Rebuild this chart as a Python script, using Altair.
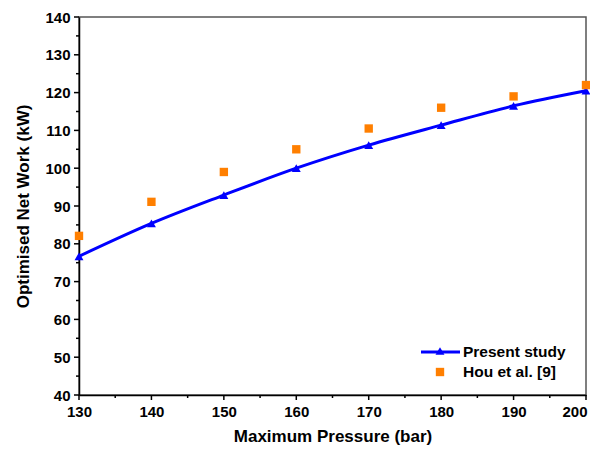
import altair as alt
import pandas as pd

pressure = [130, 140, 150, 160, 170, 180, 190, 200]
present_study = [76.7, 85.4, 92.9, 100.0, 106.1, 111.4, 116.5, 120.5]
hou_et_al = [82.1, 91.1, 99.0, 105.0, 110.5, 116.0, 119.0, 122.0]

x_major = [130, 140, 150, 160, 170, 180, 190, 200]
x_minor = [135, 145, 155, 165, 175, 185, 195]
y_major = [40, 50, 60, 70, 80, 90, 100, 110, 120, 130, 140]
y_minor = [45, 55, 65, 75, 85, 95, 105, 115, 125, 135]

legend_labels = ["Present study", "Hou et al. [9]"]

df = pd.DataFrame({"p": pressure, "present": present_study, "hou": hou_et_al})

FONT = "Liberation Sans"
W, H = 507, 378
xs = alt.Scale(domain=[130, 200], nice=False, zero=False)
ys = alt.Scale(domain=[40, 140], nice=False, zero=False)

ax_style = dict(labelFont=FONT, labelFontSize=15, labelFontWeight="bold", labelColor="#000",
                titleFont=FONT, titleFontSize=17, titleFontWeight="bold", titleColor="#000",
                domainColor="#000", domainWidth=1.5, ticks=False, grid=False,
                labelOverlap=False, labelFlush=False)
x_axis = alt.Axis(values=x_major, title="Maximum Pressure (bar)", titlePadding=9, labelPadding=9,
                  labelAlign=alt.ExprRef("datum.value == 200 ? 'right' : 'center'"),
                  labelOffset=alt.ExprRef("datum.value == 200 ? 1 : 0"), **ax_style)
y_axis = alt.Axis(values=y_major, title="Optimised Net Work (kW)", titlePadding=12, labelPadding=9, **ax_style)

X = alt.X("p:Q", scale=xs, axis=x_axis)

line = alt.Chart(df).mark_line(color="#0000ff", strokeWidth=3, interpolate="monotone").encode(
    x=X, y=alt.Y("present:Q", scale=ys, axis=y_axis))
tri = alt.Chart(df).mark_point(shape="triangle-up", filled=True, color="#0000ff", size=80, opacity=1).encode(
    x=X, y=alt.Y("present:Q", scale=ys, axis=y_axis))
sq = alt.Chart(df).mark_point(shape="square", filled=True, color="#ff7f00", size=70, opacity=1).encode(
    x=X, y=alt.Y("hou:Q", scale=ys, axis=y_axis))

# tick marks drawn as rules (major and minor)
xmaj = alt.Chart(pd.DataFrame({"p": x_major})).mark_rule(color="#000", strokeWidth=1.5, clip=False).encode(
    x=X, y=alt.value(H), y2=alt.value(H + 5))
xmin = alt.Chart(pd.DataFrame({"p": x_minor})).mark_rule(color="#000", strokeWidth=1.5, clip=False).encode(
    x=X, y=alt.value(H), y2=alt.value(H + 3))
ymaj = alt.Chart(pd.DataFrame({"present": y_major})).mark_rule(color="#000", strokeWidth=1.5, clip=False).encode(
    y=alt.Y("present:Q", scale=ys, axis=y_axis), x=alt.value(-5), x2=alt.value(0))
ymin = alt.Chart(pd.DataFrame({"present": y_minor})).mark_rule(color="#000", strokeWidth=1.5, clip=False).encode(
    y=alt.Y("present:Q", scale=ys, axis=y_axis), x=alt.value(-3), x2=alt.value(0))

# manual legend
leg_line = alt.Chart(pd.DataFrame({"a": [0]})).mark_rule(color="#0000ff", strokeWidth=3).encode(
    x=alt.value(342), x2=alt.value(381), y=alt.value(335))
leg_tri = alt.Chart(pd.DataFrame({"a": [0]})).mark_point(shape="triangle-up", filled=True, color="#0000ff",
                                                         size=80, opacity=1).encode(
    x=alt.value(361), y=alt.value(334))
leg_sq = alt.Chart(pd.DataFrame({"a": [0]})).mark_point(shape="square", filled=True, color="#ff7f00",
                                                        size=70, opacity=1).encode(
    x=alt.value(361), y=alt.value(355))
leg_text = alt.Chart(pd.DataFrame({"label": legend_labels, "yy": [335, 355]})).mark_text(
    align="left", baseline="middle", font=FONT, fontSize=15.5, fontWeight="bold", color="#000").encode(
    x=alt.value(384), y=alt.Y("yy:Q", scale=None), text="label:N")

chart = alt.layer(line, tri, sq, xmaj, xmin, ymaj, ymin, leg_line, leg_tri, leg_sq, leg_text).properties(
    width=W, height=H, autosize=alt.AutoSizeParams(type="none"),
    padding={"left": 71, "top": 9, "right": 4, "bottom": 51}
).configure_view(stroke="#555", strokeWidth=1.5)

chart.save("out.html", embed_options={"renderer": "svg", "actions": False})
